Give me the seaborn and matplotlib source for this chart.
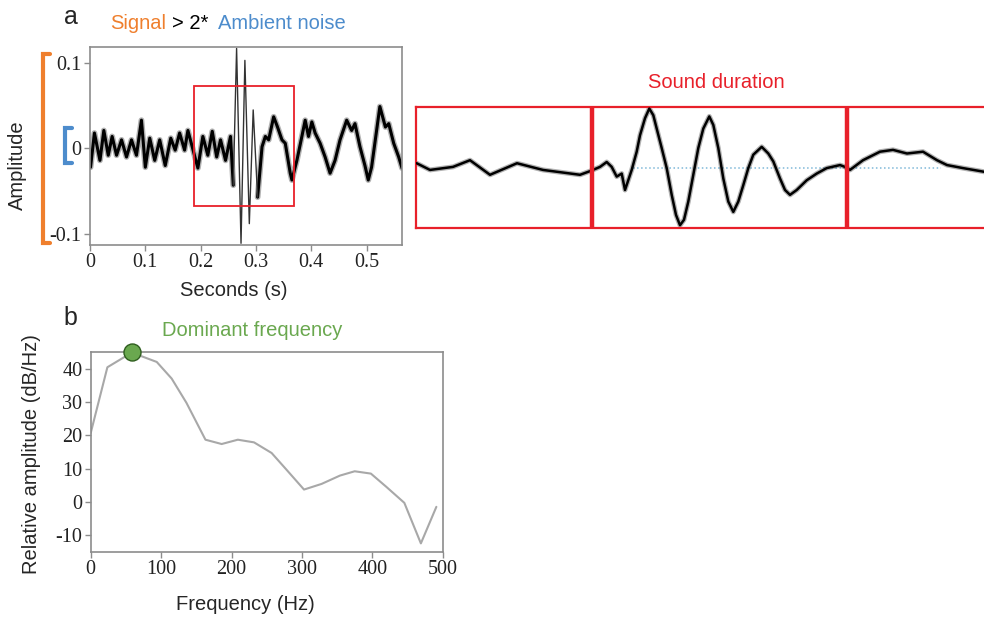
import numpy as np
import pandas as pd
import matplotlib
matplotlib.use("Agg")
import matplotlib.pyplot as plt
import matplotlib.transforms as mtransforms
from matplotlib.patches import Rectangle
import seaborn as sns

# ---------------- data ----------------
# panel a: waveform (seconds, amplitude)
wave_t = [0.001, 0.008, 0.018, 0.025, 0.033, 0.040, 0.048, 0.057, 0.066, 0.075,
          0.084, 0.093, 0.100, 0.108, 0.117, 0.126, 0.136, 0.146, 0.154, 0.162,
          0.171, 0.177, 0.188, 0.195, 0.204, 0.213, 0.221, 0.229, 0.236, 0.245,
          0.254, 0.259, 0.265, 0.273, 0.280, 0.288, 0.295, 0.303, 0.311, 0.317,
          0.323, 0.332, 0.339, 0.347, 0.353, 0.362, 0.365, 0.374, 0.383, 0.389,
          0.395, 0.401, 0.407, 0.416, 0.425, 0.434, 0.443, 0.452, 0.464, 0.473,
          0.479, 0.488, 0.497, 0.503, 0.509, 0.524, 0.534, 0.540, 0.549, 0.558,
          0.564]
wave_amp = [-0.022, 0.018, -0.014, 0.021, -0.008, 0.014, -0.008, 0.010, -0.010, 0.010,
            -0.008, 0.033, -0.022, 0.012, -0.014, 0.010, -0.020, 0.012, -0.002, 0.018,
            -0.002, 0.021, -0.006, -0.023, 0.014, -0.008, 0.020, -0.010, 0.010, -0.014,
            0.014, -0.043, 0.117, -0.111, 0.103, -0.088, 0.045, -0.057, 0.002, 0.014,
            0.010, 0.037, 0.025, 0.010, 0.006, -0.029, -0.037, -0.014, 0.014, 0.033,
            0.014, 0.031, 0.018, 0.006, -0.010, -0.029, -0.014, 0.010, 0.033, 0.021,
            0.029, 0.002, -0.020, -0.037, -0.022, 0.049, 0.025, 0.029, 0.006, -0.010,
            -0.023]
burst_start, burst_end = 0.259, 0.303
zoom_box = (0.188, 0.369, -0.067, 0.073)      # t0, t1, a0, a1
signal_range = (-0.111, 0.111)
noise_range = (-0.017, 0.024)

# zoomed sound (relative time units, normalised amplitude)
zoom_t = [0.7, 14, 37, 54, 74, 101, 127, 164, 174, 184, 190.7, 195.7, 200.7, 205.7,
          209, 215.7, 220.7, 224, 229, 233.3, 237.3, 240.7, 245.7, 250.7, 255.7, 260,
          264, 268, 272.3, 277.3, 282.3, 287.3, 293.3, 297.3, 302.3, 307.3, 312.3,
          317.3, 322.3, 327.3, 332.3, 337.3, 345.7, 352.3, 357.3, 364, 369, 374,
          380.7, 390.7, 400.7, 410.7, 424, 429, 434, 447, 464, 477, 491, 507, 521,
          531, 547, 568, 594]
zoom_amp = [0.07, -0.04, 0.01, 0.12, -0.12, 0.07, -0.04, -0.12, -0.06, 0.01, 0.09,
            0.01, -0.15, -0.10, -0.37, -0.04, 0.26, 0.53, 0.81, 0.97, 0.86, 0.64,
            0.32, -0.01, -0.45, -0.78, -0.95, -0.86, -0.56, -0.12, 0.32, 0.64, 0.84,
            0.70, 0.32, -0.18, -0.56, -0.73, -0.56, -0.29, -0.01, 0.21, 0.34, 0.23,
            0.10, -0.18, -0.37, -0.45, -0.37, -0.21, -0.10, -0.01, 0.04, 0.01, -0.04,
            0.12, 0.26, 0.29, 0.23, 0.26, 0.12, 0.04, -0.01, -0.07, -0.10]
sound_start, sound_end = 176, 431
baseline_span = (217, 525)

# panel b: spectrum
spec_freq = [0, 23.7, 59, 72.4, 93.8, 115, 136, 163, 186, 209, 232, 257, 278,
             303, 328, 354, 375, 398, 420, 445.5, 469, 491]
spec_db = [20.7, 40.5, 45, 43.8, 42.1, 37.1, 29.8, 18.7, 17.4, 18.7, 17.9, 14.7,
           9.7, 3.7, 5.4, 7.9, 9.2, 8.5, 4.5, -0.3, -12.5, -1.5]
dom_freq, dom_db = 58, 45

a_xticks = [0, 0.1, 0.2, 0.3, 0.4, 0.5]
a_xticklabels = ["0", "0.1", "0.2", "0.3", "0.4", "0.5"]
a_yticks = [-0.1, 0, 0.1]
a_yticklabels = ["-0.1", "0", "0.1"]
b_xticks = [0, 100, 200, 300, 400, 500]
b_xticklabels = ["0", "100", "200", "300", "400", "500"]
b_yticks = [-10, 0, 10, 20, 30, 40]
b_yticklabels = ["-10", "0", "10", "20", "30", "40"]

# ---------------- style ----------------
sns.set_style("white")
plt.rcParams["font.family"] = ["Liberation Sans", "DejaVu Sans"]
plt.rcParams["axes.unicode_minus"] = False

RED = "#e8202a"
ORANGE = "#ef7f2d"
BLUE = "#4d8ccc"
GREEN = "#6aa84f"
SPINE = "#8c8c8c"

W, H = 984, 617
fig = plt.figure(figsize=(W / 100, H / 100), dpi=100)


def rect(l, t, r, b):
    return [l / W, 1 - b / H, (r - l) / W, (b - t) / H]


def ftext(x, y, s, **kw):
    return fig.text(x / W, 1 - y / H, s, **kw)


axA = fig.add_axes(rect(90, 46.7, 402, 245))
axZ = fig.add_axes(rect(416, 106.7, 1010, 228.3))
axB = fig.add_axes(rect(90.7, 352.3, 442.7, 551.7))

# ---------- panel a ----------
dfw = pd.DataFrame({"t": wave_t, "amp": wave_amp})
pre = dfw[dfw.t <= burst_start]
burst = dfw[(dfw.t >= burst_start) & (dfw.t <= burst_end)]
post = dfw[dfw.t >= burst_end]
for part in (pre, post):
    sns.lineplot(data=part, x="t", y="amp", ax=axA, sort=False, estimator=None,
                 color="black", lw=4.2, alpha=0.3, solid_joinstyle="round")
    sns.lineplot(data=part, x="t", y="amp", ax=axA, sort=False, estimator=None,
                 color="black", lw=2.2, solid_joinstyle="round")
sns.lineplot(data=burst, x="t", y="amp", ax=axA, sort=False, estimator=None,
             color="#333333", lw=1.0)
axA.add_patch(Rectangle((zoom_box[0], zoom_box[2]), zoom_box[1] - zoom_box[0],
                        zoom_box[3] - zoom_box[2], fill=False, ec=RED, lw=1.3, zorder=5))
axA.set_xlim(0, 0.564)
axA.set_ylim(-0.113, 0.119)
axA.set_xticks(a_xticks)
axA.set_xticklabels(a_xticklabels)
axA.set_yticks(a_yticks)
axA.set_yticklabels(a_yticklabels)
axA.set_xlabel("")
axA.set_ylabel("")

tr = mtransforms.blended_transform_factory(axA.transAxes, axA.transData)
axA.plot([-0.128, -0.151, -0.151, -0.128],
         [signal_range[1], signal_range[1], signal_range[0], signal_range[0]],
         color=ORANGE, lw=3, transform=tr, clip_on=False, solid_joinstyle="miter")
axA.plot([-0.058, -0.080, -0.080, -0.058],
         [noise_range[1], noise_range[1], noise_range[0], noise_range[0]],
         color=BLUE, lw=3, transform=tr, clip_on=False, solid_joinstyle="miter")

# ---------- zoomed sound ----------
axZ.plot(list(baseline_span), [0, 0], ls=":", color="#7fb8d8", lw=1.1, zorder=1)
sns.lineplot(x=zoom_t, y=zoom_amp, ax=axZ, sort=False, estimator=None,
             color="black", lw=3.6, alpha=0.3, zorder=2, solid_joinstyle="round")
sns.lineplot(x=zoom_t, y=zoom_amp, ax=axZ, sort=False, estimator=None,
             color="black", lw=1.8, zorder=3, solid_joinstyle="round")
for xv in (sound_start, sound_end):
    axZ.axvline(xv, color=RED, lw=3.2, zorder=4)
axZ.axhline(-1.0, color="#8ecae6", lw=1.0, zorder=0)
axZ.set_xlim(0, 594)
axZ.set_ylim(-1, 1)
axZ.set_xticks([])
axZ.set_yticks([])
for s in axZ.spines.values():
    s.set_color(RED)
    s.set_linewidth(1.6)

# ---------- panel b ----------
sns.lineplot(x=spec_freq, y=spec_db, ax=axB, color="#a8a8a8", lw=1.5, sort=False,
             estimator=None)
axB.scatter([dom_freq], [dom_db], s=150, color=GREEN, edgecolor="#2f5e1f",
            linewidth=1.0, zorder=6, clip_on=False)
axB.set_xlim(0, 500)
axB.set_ylim(-15, 45)
axB.set_xticks(b_xticks)
axB.set_xticklabels(b_xticklabels)
axB.set_yticks(b_yticks)
axB.set_yticklabels(b_yticklabels)
axB.set_xlabel("")
axB.set_ylabel("")

for ax in (axA, axB):
    for s in ax.spines.values():
        s.set_color(SPINE)
        s.set_linewidth(1.2)
    ax.tick_params(bottom=True, left=True, direction="out", length=4, width=1,
                   color=SPINE, labelsize=14.5, pad=2, labelcolor="#222222")
    for lab in ax.get_xticklabels() + ax.get_yticklabels():
        lab.set_fontfamily("Liberation Serif")

# ---------- texts ----------
ftext(71, 17, "a", fontsize=18, ha="center", va="center")
ftext(70, 318, "b", fontsize=18, ha="center", va="center")
ftext(110, 29, "Signal", color=ORANGE, fontsize=14.5, ha="left", va="baseline")
ftext(172, 29, "> 2*", color="black", fontsize=14.5, ha="left", va="baseline")
ftext(218, 29, "Ambient noise", color=BLUE, fontsize=14.5, ha="left", va="baseline")
ftext(17, 165, "Amplitude", fontsize=14.5, rotation=90, ha="center", va="center")
ftext(234, 291, "Seconds (s)", fontsize=14.5, ha="center", va="center")
ftext(716, 82, "Sound duration", color=RED, fontsize=14.5, ha="center", va="center")
ftext(252, 331, "Dominant frequency", color=GREEN, fontsize=14.5, ha="center", va="center")
ftext(32, 454, "Relative amplitude (dB/Hz)", fontsize=14.5, rotation=90,
      ha="center", va="center")
ftext(245, 604, "Frequency (Hz)", fontsize=14.5, ha="center", va="center")

fig.savefig("out.png", dpi=100)
